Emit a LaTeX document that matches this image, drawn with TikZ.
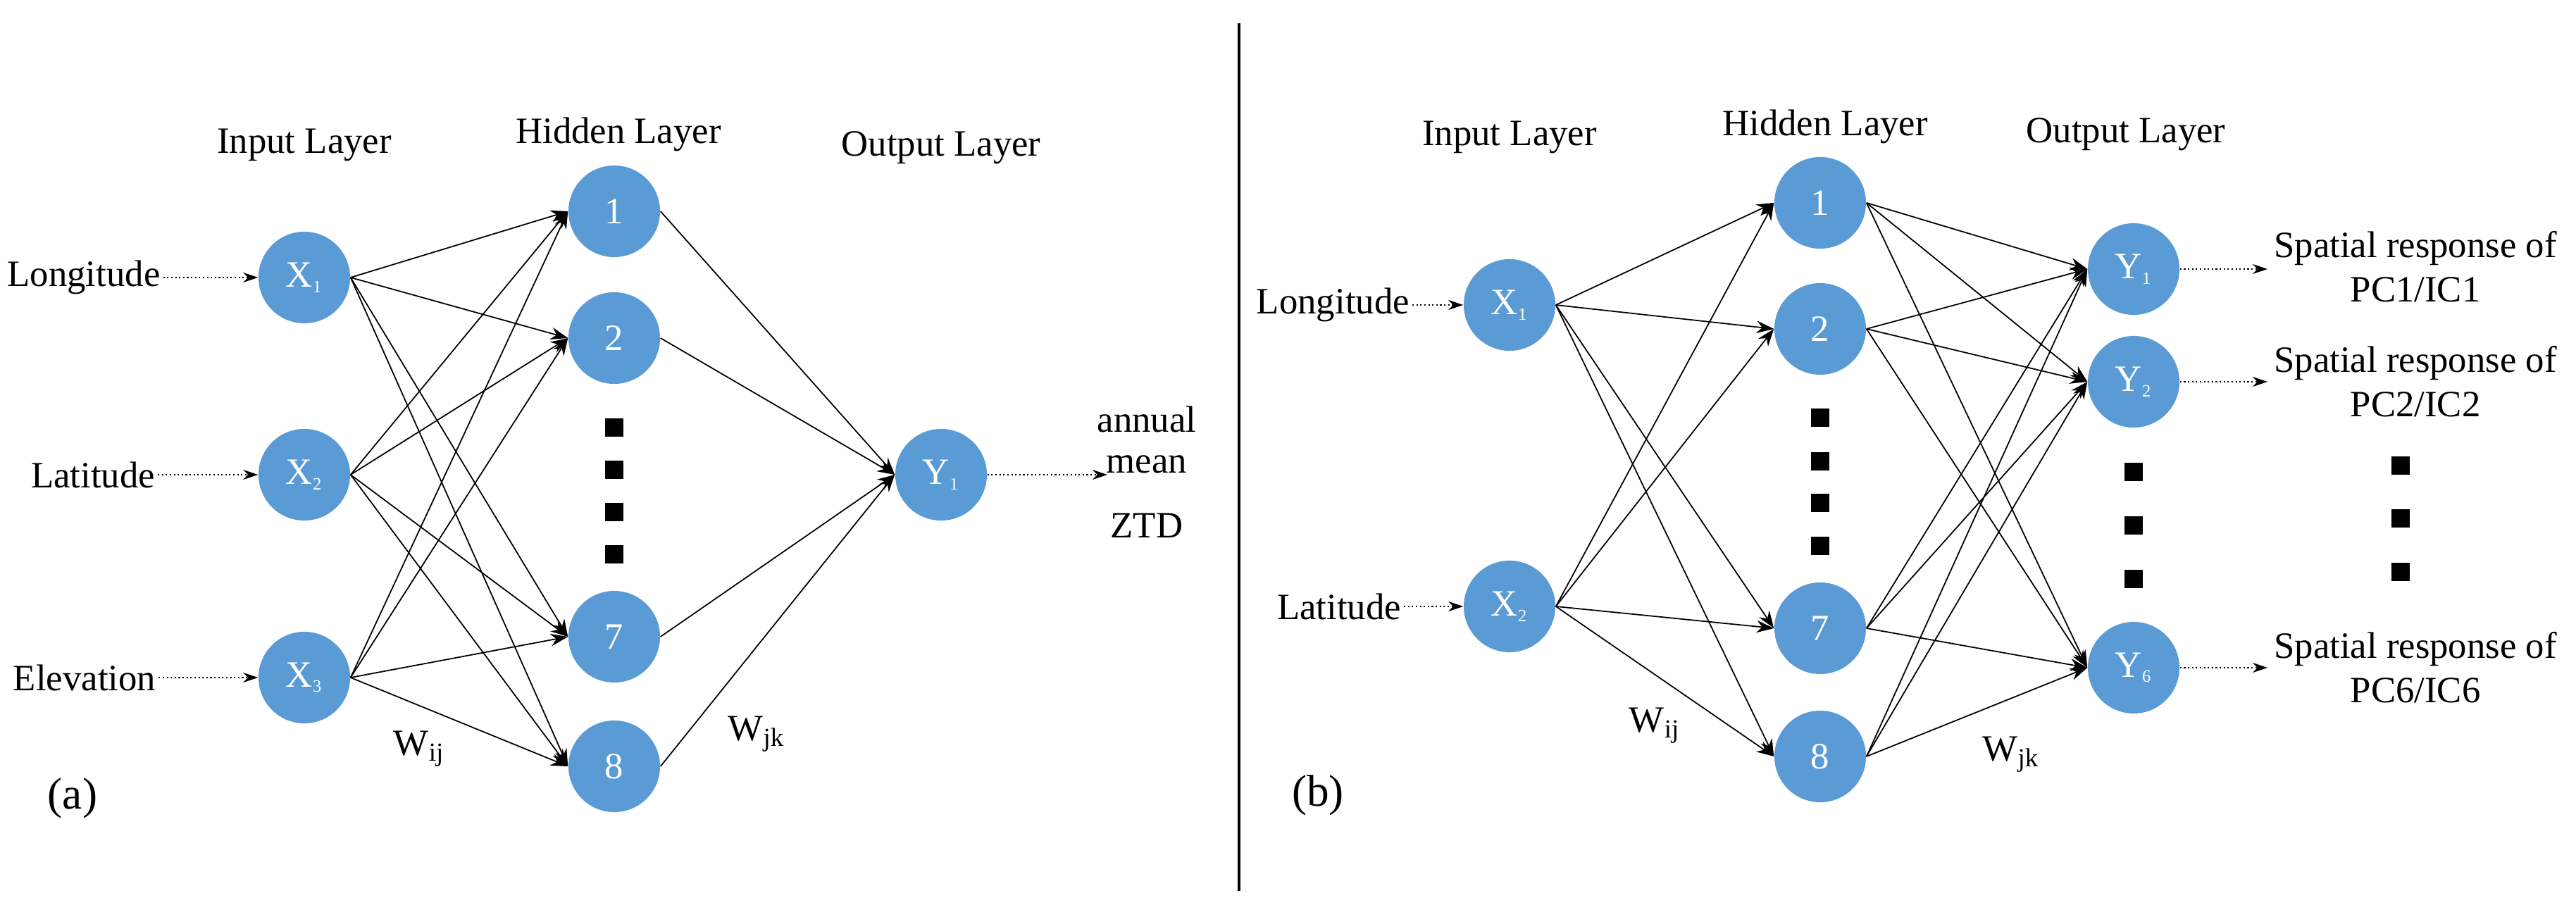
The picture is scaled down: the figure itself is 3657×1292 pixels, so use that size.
\documentclass[tikz,border=0pt]{standalone}
\usepackage{fontspec}
\setmainfont{Liberation Serif}
\usetikzlibrary{arrows.meta}
\definecolor{nb}{HTML}{5B9BD5}
\begin{document}
\begin{tikzpicture}[x=0.01cm,y=-0.01cm,
  neuron/.style={circle,fill=nb,minimum size=1.3cm,inner sep=0pt,text=white,font=\fontsize{15}{17}\selectfont},
  lbl/.style={font=\fontsize{15}{18}\selectfont,inner sep=1pt},
  sq/.style={fill=black,minimum width=0.26cm,minimum height=0.25cm,inner sep=0pt},
  w/.style={-{Stealth[length=7pt,width=5pt]},line width=0.5pt},
  dot/.style={-{Stealth[length=6pt,width=4pt]},densely dotted,line width=0.6pt}]
\useasboundingbox (0,0) rectangle (3657,1292);
% ---------- panel (a)
\node[neuron] (aX1) at (432,394) {X\textsubscript{\scriptsize 1}};
\node[neuron] (aX2) at (432,674) {X\textsubscript{\scriptsize 2}};
\node[neuron] (aX3) at (432,962) {X\textsubscript{\scriptsize 3}};
\node[neuron] (aH1) at (872,300) {1};
\node[neuron] (aH2) at (872,480) {2};
\node[neuron] (aH7) at (872,904) {7};
\node[neuron] (aH8) at (872,1088) {8};
\node[neuron] (aY1) at (1336,674) {Y\textsubscript{\scriptsize 1}};
\foreach \y [count=\i] in {607,667,727,787} \node[sq] (asq\i) at (872,\y) {};
\node[lbl] (aL1) at (119,394) {Longitude};
\node[lbl] (aL2) at (132,674) {Latitude};
\node[lbl] (aL3) at (120,962) {Elevation};
\draw[dot] (aL1) -- (aX1);
\draw[dot] (aL2) -- (aX2);
\draw[dot] (aL3) -- (aX3);
\node[lbl] (aIL) at (432,206) {Input Layer};
\node[lbl] (aHL) at (878,191) {Hidden Layer};
\node[lbl] (aOL) at (1336,210) {Output Layer};
\node[lbl] (aZ1) at (1628,595) {annual};
\node[lbl] (aZ2) at (1628,659) {mean};
\node[lbl] (aZ3) at (1628,746) {ZTD};
\coordinate (aE) at (1572,674);
\draw[dot] (aY1) -- (aE);
\node[lbl] (aWij) at (595,1063) {W\textsubscript{ij}};
\node[lbl] (aWjk) at (1074,1042) {W\textsubscript{jk}};
\node[lbl,font=\fontsize{18}{20}\selectfont] (aTag) at (103,1133) {(a)};
\foreach \i in {1,2,3} \foreach \j in {1,2,7,8} \draw[w] (aX\i.east) -- (aH\j.west);
\foreach \j in {1,2,7,8} \draw[w] (aH\j.east) -- (aY1.west);
% ---------- divider
\coordinate (d1) at (1759,33);
\coordinate (d2) at (1759,1265);
\draw[line width=1.4pt] (d1) -- (d2);
% ---------- panel (b)
\node[neuron] (bX1) at (2143,433) {X\textsubscript{\scriptsize 1}};
\node[neuron] (bX2) at (2143,861) {X\textsubscript{\scriptsize 2}};
\node[neuron] (bH1) at (2584,288) {1};
\node[neuron] (bH2) at (2584,467) {2};
\node[neuron] (bH7) at (2584,892) {7};
\node[neuron] (bH8) at (2584,1074) {8};
\node[neuron] (bY1) at (3029,382) {Y\textsubscript{\scriptsize 1}};
\node[neuron] (bY2) at (3029,542) {Y\textsubscript{\scriptsize 2}};
\node[neuron] (bY6) at (3029,948) {Y\textsubscript{\scriptsize 6}};
\foreach \y [count=\i] in {593,655,714,775} \node[sq] (bsq\i) at (2584,\y) {};
\foreach \y [count=\i] in {670,746,822} \node[sq] (bsy\i) at (3029,\y) {};
\foreach \y [count=\i] in {661,736,812} \node[sq] (bsr\i) at (3408,\y) {};
\node[lbl,anchor=east] (bL1) at (2005,433) {Longitude};
\node[lbl,anchor=east] (bL2) at (1993,861) {Latitude};
\draw[dot] (bL1) -- (bX1);
\draw[dot] (bL2) -- (bX2);
\node[lbl] (bIL) at (2143,195) {Input Layer};
\node[lbl] (bHL) at (2591,180) {Hidden Layer};
\node[lbl] (bOL) at (3018,191) {Output Layer};
\node[lbl,align=center] (bR1) at (3429,379) {Spatial response of\\PC1/IC1};
\node[lbl,align=center] (bR2) at (3429,542) {Spatial response of\\PC2/IC2};
\node[lbl,align=center] (bR6) at (3429,948) {Spatial response of\\PC6/IC6};
\coordinate (bE1) at (3219,382);
\coordinate (bE2) at (3219,542);
\coordinate (bE6) at (3219,948);
\draw[dot] (bY1) -- (bE1);
\draw[dot] (bY2) -- (bE2);
\draw[dot] (bY6) -- (bE6);
\node[lbl] (bWij) at (2349,1030) {W\textsubscript{ij}};
\node[lbl] (bWjk) at (2855,1071) {W\textsubscript{jk}};
\node[lbl,font=\fontsize{18}{20}\selectfont] (bTag) at (1871,1129) {(b)};
\foreach \i in {1,2} \foreach \j in {1,2,7,8} \draw[w] (bX\i.east) -- (bH\j.west);
\foreach \j in {1,2,7,8} \foreach \k in {1,2,6} \draw[w] (bH\j.east) -- (bY\k.west);
\end{tikzpicture}
\end{document}
